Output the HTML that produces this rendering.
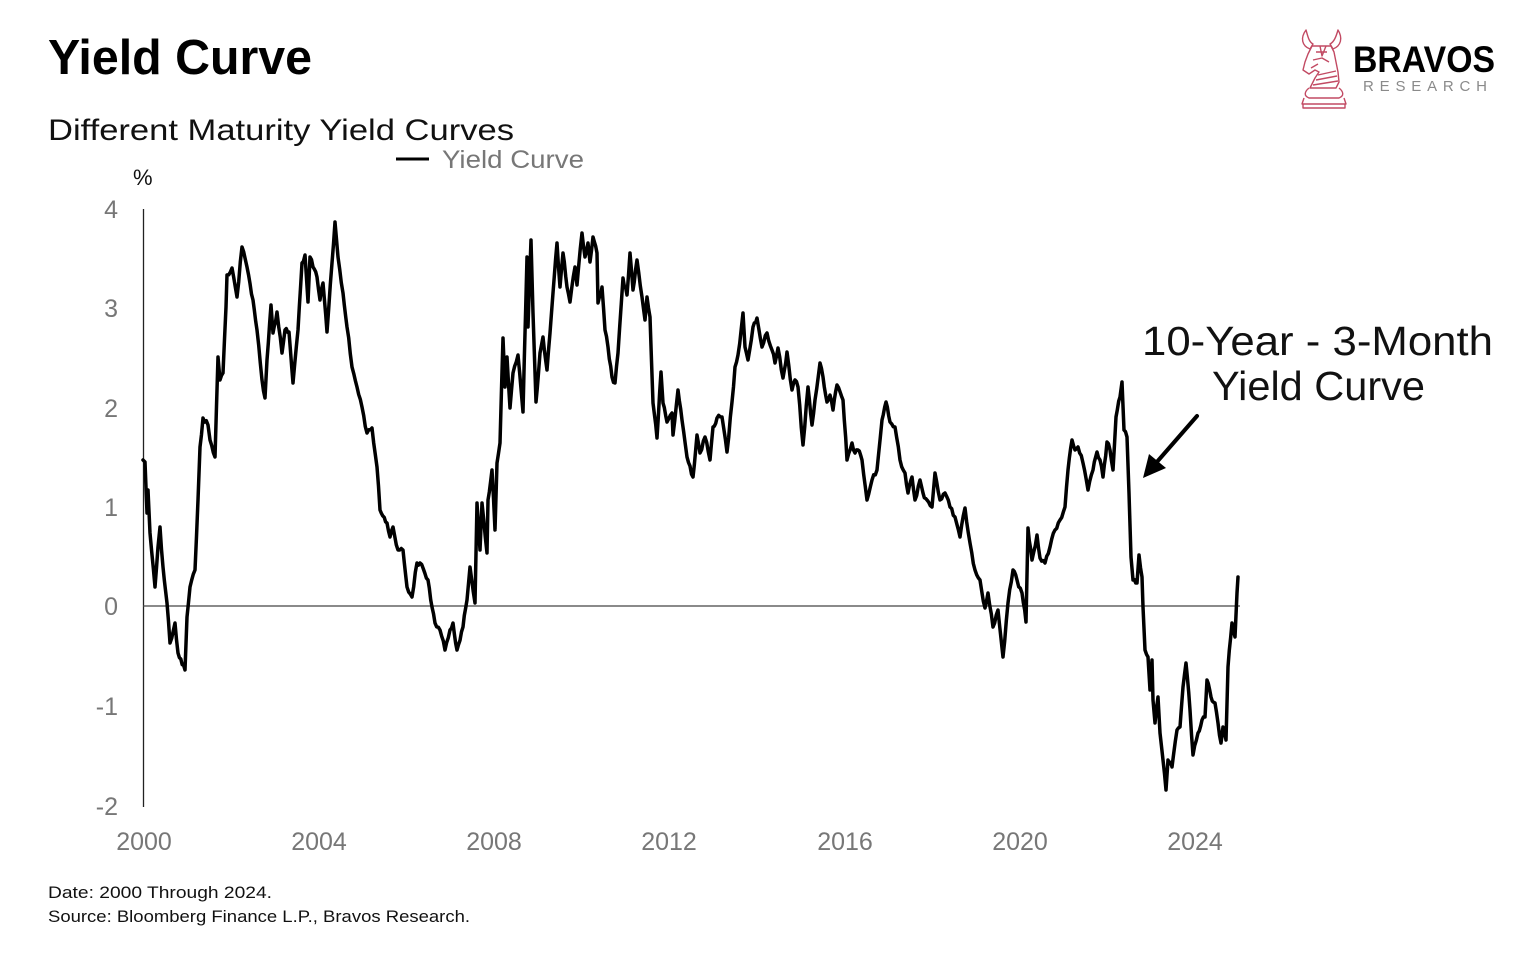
<!DOCTYPE html>
<html><head><meta charset="utf-8"><style>
html,body{margin:0;padding:0;background:#fff;}
svg{display:block;}
text{font-family:"Liberation Sans",Arial,sans-serif;}
</style></head><body>
<svg width="1514" height="956" viewBox="0 0 1514 956" xmlns="http://www.w3.org/2000/svg">
<rect width="1514" height="956" fill="#fff"/>
<!-- titles -->
<text x="48" y="74" font-size="49" font-weight="bold" fill="#000" textLength="264" lengthAdjust="spacingAndGlyphs">Yield Curve</text>
<text x="48" y="140" font-size="30" fill="#111" textLength="466" lengthAdjust="spacingAndGlyphs">Different Maturity Yield Curves</text>
<!-- legend -->
<line x1="396" y1="159" x2="429" y2="159" stroke="#000" stroke-width="3"/>
<text x="442" y="168" font-size="25" fill="#777" textLength="142" lengthAdjust="spacingAndGlyphs">Yield Curve</text>
<text x="133" y="185" font-size="22" fill="#111">%</text>
<!-- y tick labels -->
<g font-size="25" fill="#777" text-anchor="end">
<text x="118" y="218">4</text>
<text x="118" y="317">3</text>
<text x="118" y="417">2</text>
<text x="118" y="516">1</text>
<text x="118" y="615">0</text>
<text x="118" y="715">-1</text>
<text x="118" y="815">-2</text>
</g>
<!-- x tick labels -->
<g font-size="25" fill="#777" text-anchor="middle">
<text x="144" y="850">2000</text>
<text x="319" y="850">2004</text>
<text x="494" y="850">2008</text>
<text x="669" y="850">2012</text>
<text x="845" y="850">2016</text>
<text x="1020" y="850">2020</text>
<text x="1195" y="850">2024</text>
</g>
<!-- axes -->
<line x1="143.5" y1="209" x2="143.5" y2="807" stroke="#222" stroke-width="1.3"/>
<line x1="143" y1="606" x2="1240" y2="606" stroke="#444" stroke-width="1.3"/>
<!-- series -->
<polyline id="ser" fill="none" stroke="#000" stroke-width="3.5" stroke-linejoin="round" stroke-linecap="round" points="
143,460 145,462 147,513 148,490 150,533 155,587 158,547 160,527 163,567 167,603 170,643 175,623 178,653 185,670 187,617 190,587 195,570 198,500 200,447 203,418 208,425 210,440 215,457 218,357 220,380 223,373 226,307 227,275 232,268 237,297 242,247 247,267 253,300 257,330 262,380 265,398 267,360 271,305 273,333 277,312 282,353 285,330 289,332 293,383 298,330 302,263 305,255 308,302 310,257 313,267 317,277 320,300 323,283 327,332 332,263 335,222 338,257 343,293 347,327 352,367 357,387 362,407 367,433 372,428 377,467 380,510 387,523 390,537 393,527 398,550 403,550 407,587 412,597 417,563 420,563 428,580 432,607 435,623 440,630 445,650 450,630 453,623 457,650 463,627 467,600 470,567 475,603 477,503 480,550 482,503 487,553 488,500 492,470 495,530 497,463 500,443 503,338 505,387 507,357 510,408 513,373 518,355 523,412 527,257 528,327 531,240 533,313 536,402 540,353 543,337 547,370 550,333 553,293 557,243 560,287 563,253 567,287 570,302 575,267 577,285 582,233 585,257 588,243 590,262 593,237 597,253 598,303 602,287 605,330 608,347 612,377 615,383 618,353 623,278 627,295 630,253 633,290 637,260 642,297 645,320 647,297 650,317 653,403 657,438 661,372 663,403 667,422 672,413 673,435 678,390 682,420 687,457 693,477 697,435 700,453 705,437 710,460 713,427 717,418 722,417 727,452 732,402 735,367 738,355 743,313 745,347 748,360 753,327 757,318 762,347 767,333 772,350 775,363 778,348 783,378 787,352 792,390 795,380 798,387 803,445 808,387 812,425 815,400 820,363 823,377 827,402 830,395 833,410 837,385 843,400 847,460 852,443 855,453 858,450 862,460 867,500 872,480 877,470 882,420 886,402 890,422 895,427 900,460 905,473 908,493 912,477 915,500 920,480 923,493 927,500 932,507 935,473 940,500 945,493 950,507 955,517 960,537 965,508 970,543 975,570 980,580 985,608 988,593 993,627 998,610 1003,657 1008,603 1013,570 1017,580 1022,593 1026,622 1028,528 1032,560 1037,535 1040,558 1045,563 1050,547 1055,530 1060,520 1065,507 1068,470 1072,440 1075,450 1078,447 1083,463 1088,490 1093,470 1097,452 1100,460 1103,477 1107,442 1110,450 1113,470 1116,417 1120,397 1122,382 1124,430 1127,437 1129,493 1131,557 1133,580 1137,583 1139,555 1142,577 1143,607 1145,650 1148,657 1150,690 1152,660 1153,700 1155,723 1158,697 1160,733 1163,760 1166,790 1168,760 1172,767 1177,730 1180,727 1183,687 1186,663 1190,710 1193,755 1198,733 1202,720 1205,717 1207,680 1211,697 1215,703 1218,723 1221,743 1223,727 1226,740 1228,667 1232,623 1235,637 1237,593 1238,577"/>
<!-- annotation -->
<text x="1142" y="355" font-size="41" fill="#111" textLength="351" lengthAdjust="spacingAndGlyphs">10-Year - 3-Month</text>
<text x="1212" y="400" font-size="41" fill="#111" textLength="213" lengthAdjust="spacingAndGlyphs">Yield Curve</text>
<line x1="1197" y1="416" x2="1156" y2="463" stroke="#000" stroke-width="4" stroke-linecap="round"/>
<polygon points="1143,478 1149,454 1166,468" fill="#000"/>
<!-- footer -->
<text x="48" y="898" font-size="17" fill="#111" textLength="224" lengthAdjust="spacingAndGlyphs">Date: 2000 Through 2024.</text>
<text x="48" y="922" font-size="17" fill="#111" textLength="422" lengthAdjust="spacingAndGlyphs">Source: Bloomberg Finance L.P., Bravos Research.</text>
<!-- logo -->
<g fill="none" stroke="#c24a63" stroke-width="1.4" stroke-linejoin="round">
<path d="M1306,30 C1300,38 1302,46 1310,49 L1313,44 C1309,42 1308,37 1306,30 Z"/>
<path d="M1338,30 C1343,38 1341,46 1333,49 L1330,44 C1334,42 1336,37 1338,30 Z"/>
<path d="M1312,46 L1331,46 L1334,52 L1336,62 L1338,72 L1339,82 L1336,88 L1310,88 L1315,78 L1319,72 L1315,70 L1309,74 L1303,70 L1305,62 L1308,54 Z"/>
<path d="M1316,52 L1327,52 M1313,60 L1322,58 L1329,62 M1311,68 L1318,64 M1320,46 L1322,56 L1326,46"/>
<path d="M1309,88 C1304,92 1304,96 1309,98 L1339,98 C1344,96 1344,92 1339,88"/>
<path d="M1304,98 L1302,104 L1346,104 L1344,98 M1303,104 L1303,108 L1345,108 L1345,104"/>
<path d="M1316,80 L1337,76 M1313,85 L1338,81 M1318,75 L1336,71"/>
</g>
<text x="1353" y="72" font-size="37" font-weight="bold" fill="#000" textLength="142" lengthAdjust="spacingAndGlyphs">BRAVOS</text>
<text x="1363" y="91" font-size="15" fill="#8a8a8a" textLength="124" lengthAdjust="spacing">RESEARCH</text>
</svg>
<script>
(function(){
  try{
    var pl=document.getElementById('ser');
    var raw=pl.getAttribute('points').trim().split(/\s+/).map(function(p){var a=p.split(',');return [+a[0],+a[1]];});
    var seed=12345;function rnd(){seed=(seed*1103515245+12345)%2147483648;return seed/2147483648;}
    var out=[raw[0]];
    for(var i=1;i<raw.length;i++){
      var a=raw[i-1],b=raw[i];
      var dx=b[0]-a[0];
      var n=Math.max(1,Math.round(dx/1.5));
      for(var k=1;k<=n;k++){
        var t=k/n;var x=a[0]+dx*t;var y=a[1]+(b[1]-a[1])*t;
        if(k<n){y+=(rnd()-0.5)*5;}
        out.push([x,y]);
      }
    }
    pl.setAttribute('points',out.map(function(p){return p[0].toFixed(1)+','+p[1].toFixed(1);}).join(' '));
  }catch(e){}
})();
</script>
</body></html>
